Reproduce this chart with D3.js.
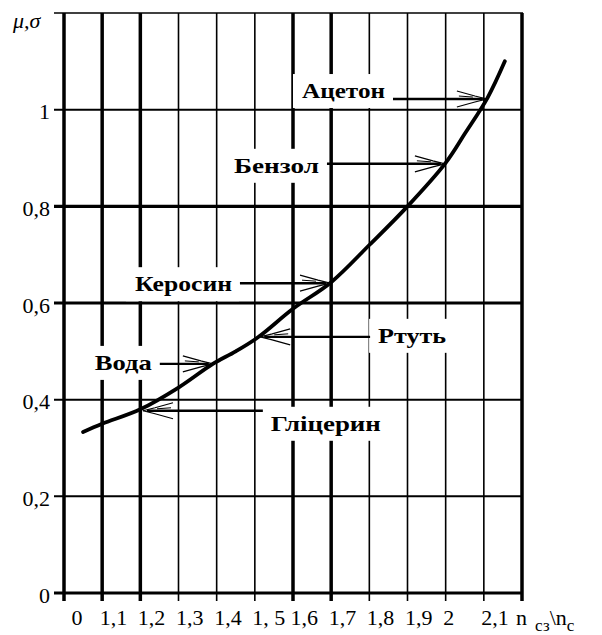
<!DOCTYPE html>
<html><head><meta charset="utf-8">
<script src="https://cdn.jsdelivr.net/npm/d3@7"></script>
<style>
html,body{margin:0;padding:0;background:#fff;}
svg{display:block;}
text{font-family:"Liberation Serif","Times New Roman",serif !important;fill:#000;}
</style></head>
<body>
<svg id="chart" width="602" height="635"></svg>
<script>
// ---- data ----
const xTicks = [1.0, 1.1, 1.2, 1.3, 1.4, 1.5, 1.6, 1.7, 1.8, 1.9, 2.0, 2.1];
const xTickLabels = ["0", "1,1", "1,2", "1,3", "1,4", "1, 5", "1,6", "1,7", "1,8", "1,9", "2", "2,1"];
const yTicks = [0, 0.2, 0.4, 0.6, 0.8, 1.0];
const yTickLabels = ["0", "0,2", "0,4", "0,6", "0,8", "1"];
const curveN  = [1.05, 1.1, 1.2, 1.3, 1.39, 1.45, 1.51, 1.6, 1.7, 1.8, 1.9, 2.0, 2.05, 2.11, 2.155];
const curveMu = [0.333, 0.35, 0.38, 0.425, 0.474, 0.50, 0.53, 0.588, 0.643, 0.72, 0.80, 0.89, 0.95, 1.025, 1.10];
const liquids   = ["Ацетон", "Бензол", "Керосин", "Ртуть", "Вода", "Гліцерин"];
const liquidN   = [2.108, 1.998, 1.697, 1.514, 1.390, 1.207];
const liquidMu  = [1.022, 0.888, 0.641, 0.530, 0.474, 0.377];
const liquidTailN = [1.862, 1.689, 1.461, 1.802, 1.251, 1.521];

// ---- layout (not data) ----
const labelSide = ["left", "left", "left", "right", "left", "right"];
const labelDy   = [-1, 9, 8, 6, 6, 20];
const labelW    = [83, 85, 97, 68, 57, 110];
const thickX = [1.0, 1.1, 1.2, 1.6, 1.7];
const thickY = [0, 0.6, 0.8];

const svg = d3.select("#chart");
const x = d3.scaleLinear().domain([1.0, 2.2]).range([64, 522]);
const y = d3.scaleLinear().domain([0, 1.2]).range([593, 13]);

const grid = svg.append("g");
grid.selectAll("line.v").data(xTicks.concat([2.2])).join("line")
  .attr("x1", d => x(d)).attr("x2", d => x(d))
  .attr("y1", y(1.2)).attr("y2", y(0) + 8)
  .attr("stroke", "#000")
  .attr("stroke-width", d => (thickX.some(t => Math.abs(t - d) < 1e-9) || d === 2.2) ? 3.5 : 1.6);
grid.selectAll("line.h").data(yTicks.concat([1.2])).join("line")
  .attr("x1", x(1.0) - 10).attr("x2", x(2.2) + 1)
  .attr("y1", d => y(d)).attr("y2", d => y(d))
  .attr("stroke", "#000")
  .attr("stroke-width", d => thickY.includes(d) ? 3.2 : (d === 1.2 ? 1.6 : 2));

const xAxis = d3.axisBottom(x).tickValues(xTicks).tickSize(0).tickPadding(0)
  .tickFormat((d, i) => xTickLabels[i]);
const gx = svg.append("g").attr("transform", `translate(0,${y(0)})`).call(xAxis);
gx.select(".domain").remove();
gx.selectAll("text").attr("font-size", 22)
  .attr("text-anchor", "start").attr("dy", 0).attr("y", 32)
  .attr("dx", (d, i) => i === 0 ? 7 : -3);

const yAxis = d3.axisLeft(y).tickValues(yTicks).tickSize(0).tickPadding(0)
  .tickFormat((d, i) => yTickLabels[i]);
const gy = svg.append("g").attr("transform", `translate(${x(1.0)},0)`).call(yAxis);
gy.select(".domain").remove();
gy.selectAll("text").attr("font-size", 22)
  .attr("x", -14).attr("dy", "0.42em");

svg.append("text").attr("x", 13).attr("y", 28).attr("font-size", 22)
  .attr("font-style", "italic").text("μ,σ");
const xt = svg.append("text").attr("x", 516).attr("y", 625).attr("font-size", 22);
xt.append("tspan").text("n");
xt.append("tspan").attr("dx", 8).attr("dy", 6).attr("font-size", 17).text("сз");
xt.append("tspan").attr("dy", -6).text("\\n");
xt.append("tspan").attr("dy", 6).attr("font-size", 17).text("с");

const ann = liquids.map((name, i) => ({
  name, tipX: x(liquidN[i]), tipY: y(liquidMu[i]), tailX: x(liquidTailN[i]),
  side: labelSide[i], dy: labelDy[i], w: labelW[i]
}));
const annG = svg.append("g");
ann.forEach(a => {
  const ly = a.tipY;
  const tx = a.side === "left" ? a.tailX - 8 - a.w : a.tailX + 8;
  annG.append("rect").attr("x", tx - 9).attr("y", ly + a.dy - 24)
    .attr("width", a.w + 16).attr("height", 34).attr("fill", "#fff");
  annG.append("text").attr("x", tx).attr("y", ly + a.dy)
    .attr("font-size", 21).attr("font-weight", "bold")
    .attr("textLength", a.w).attr("lengthAdjust", "spacingAndGlyphs")
    .text(a.name);
});

const line = d3.line().x(d => x(d[0])).y(d => y(d[1])).curve(d3.curveCatmullRom.alpha(0.5));
svg.append("path").datum(curveN.map((n, i) => [n, curveMu[i]]))
  .attr("d", line).attr("fill", "none").attr("stroke", "#000")
  .attr("stroke-width", 3.8).attr("stroke-linejoin", "round").attr("stroke-linecap", "round");

ann.forEach(a => {
  const dir = a.tipX > a.tailX ? 1 : -1;
  const ly = a.tipY;
  annG.append("line").attr("x1", a.tailX).attr("x2", a.tipX - dir * 4)
    .attr("y1", ly).attr("y2", ly).attr("stroke", "#000").attr("stroke-width", 2.4);
  const bx = a.tipX - dir * 30;
  [[-8, -3], [8, 3]].forEach(([o1, o2]) => {
    annG.append("path")
      .attr("d", `M${bx},${ly + o1} L${a.tipX - dir * 12},${ly + o2} L${a.tipX},${ly}`)
      .attr("fill", "none").attr("stroke", "#000").attr("stroke-width", 1.2);
  });
  annG.append("line").attr("x1", bx + dir * 2).attr("x2", a.tipX - dir * 14)
    .attr("y1", ly - 3).attr("y2", ly - 2).attr("stroke", "#000").attr("stroke-width", 1);
});
</script>
</body></html>
